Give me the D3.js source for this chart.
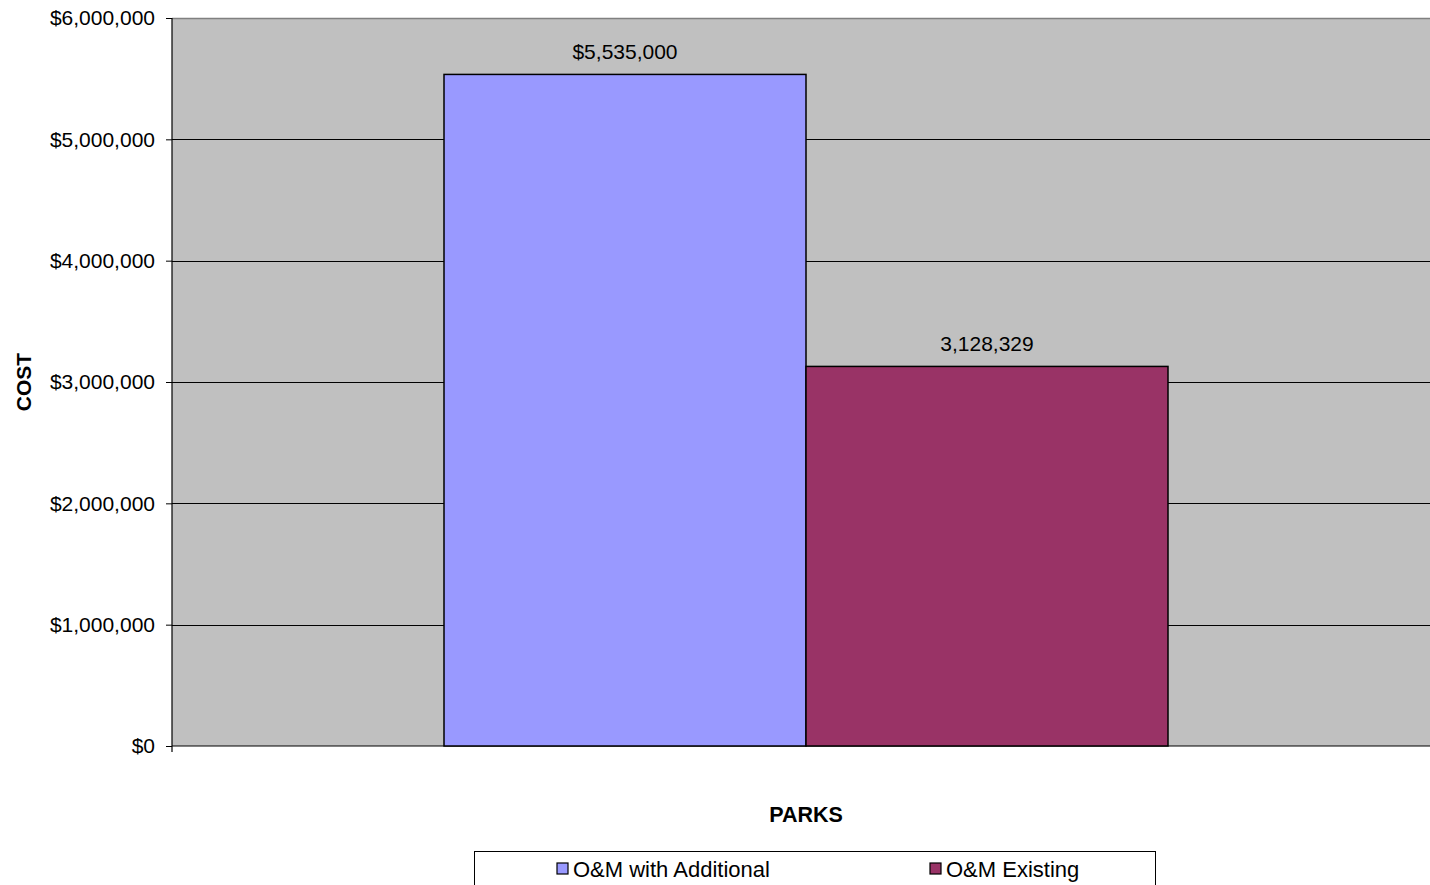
<!DOCTYPE html>
<html><head><meta charset="utf-8">
<script src="https://cdn.jsdelivr.net/npm/d3@7"></script>
<style>body{margin:0;background:#fff;} svg{display:block;font-family:"Liberation Sans",Arial,sans-serif;}</style>
</head><body>
<svg id="c" width="1430" height="885"></svg>
<script>
const categories = ["PARKS"];
const seriesNames = ["O&M with Additional", "O&M Existing"];
const seriesValues = [5535000, 3128329];
const seriesLabels = ["$5,535,000", "3,128,329"];
const seriesColors = ["#9999FF", "#993366"];
const yTicks = [0, 1000000, 2000000, 3000000, 4000000, 5000000, 6000000];

const svg = d3.select("#c");
const L = 172, T = 18, B = 746, R = 1440;
const y = d3.scaleLinear().domain([0, 6000000]).range([B, T]);
const x0 = d3.scaleBand().domain(categories).range([L, R]).paddingInner(0).paddingOuter(0);
const cw = x0.bandwidth();
const groupW = 724;
const x1 = d3.scaleBand().domain(seriesNames).range([x0("PARKS") + (cw - groupW) / 2, x0("PARKS") + (cw + groupW) / 2]).padding(0);

// plot area
svg.append("rect").attr("x", L).attr("y", T).attr("width", R - L).attr("height", B - T).attr("fill", "#C0C0C0");
svg.append("line").attr("x1", L).attr("x2", R).attr("y1", T + 0.5).attr("y2", T + 0.5).attr("stroke", "#808080").attr("stroke-width", 1.5);

// gridlines
svg.append("g").selectAll("line").data(yTicks.filter(d => d > 0 && d < 6000000)).join("line")
  .attr("x1", L).attr("x2", R).attr("y1", d => Math.round(y(d)) + 0.5).attr("y2", d => Math.round(y(d)) + 0.5)
  .attr("stroke", "#000").attr("stroke-width", 1);

// y axis
const yAxis = d3.axisLeft(y).tickValues(yTicks).tickSize(6).tickPadding(11).tickFormat(d => "$" + d3.format(",")(d));
const ga = svg.append("g").attr("transform", `translate(${L},0)`).call(yAxis);
ga.select(".domain").remove();
ga.selectAll("text").attr("font-size", 21).attr("fill", "#000").attr("font-family", "Liberation Sans, Arial, sans-serif");
ga.selectAll("line").attr("stroke", "#000");
svg.append("line").attr("x1", L).attr("x2", L).attr("y1", T).attr("y2", B + 6).attr("stroke", "#000").attr("stroke-width", 1.2);
svg.append("line").attr("x1", L).attr("x2", R).attr("y1", B).attr("y2", B).attr("stroke", "#000").attr("stroke-width", 1.2);

// bars
svg.append("g").selectAll("rect").data(seriesValues).join("rect")
  .attr("x", (d, i) => x1(seriesNames[i]))
  .attr("y", d => y(d))
  .attr("width", x1.bandwidth())
  .attr("height", d => B - y(d))
  .attr("fill", (d, i) => seriesColors[i])
  .attr("stroke", "#000").attr("stroke-width", 1.5);

// data labels
svg.append("g").selectAll("text").data(seriesValues).join("text")
  .attr("x", (d, i) => x1(seriesNames[i]) + x1.bandwidth() / 2)
  .attr("y", d => y(d) - 15)
  .attr("text-anchor", "middle").attr("font-size", 21).attr("fill", "#000")
  .text((d, i) => seriesLabels[i]);

// axis titles
svg.append("text").attr("transform", `translate(31,${(T + B) / 2}) rotate(-90)`)
  .attr("text-anchor", "middle").attr("font-size", 21).attr("font-weight", "bold").text("COST");
svg.append("text").attr("x", x0("PARKS") + cw / 2).attr("y", 822)
  .attr("text-anchor", "middle").attr("font-size", 21.5).attr("font-weight", "bold").text(categories[0]);

// legend
const lg = svg.append("g");
lg.append("rect").attr("x", 474.5).attr("y", 851.5).attr("width", 681).attr("height", 60).attr("fill", "#fff").attr("stroke", "#000").attr("stroke-width", 1);
const legX = [557, 930];
seriesNames.forEach((n, i) => {
  lg.append("rect").attr("x", legX[i]).attr("y", 863).attr("width", 11).attr("height", 11)
    .attr("fill", seriesColors[i]).attr("stroke", "#000").attr("stroke-width", 1.2);
  lg.append("text").attr("x", legX[i] + 16).attr("y", 877).attr("font-size", 22).attr("fill", "#000").text(n);
});
</script>
</body></html>
